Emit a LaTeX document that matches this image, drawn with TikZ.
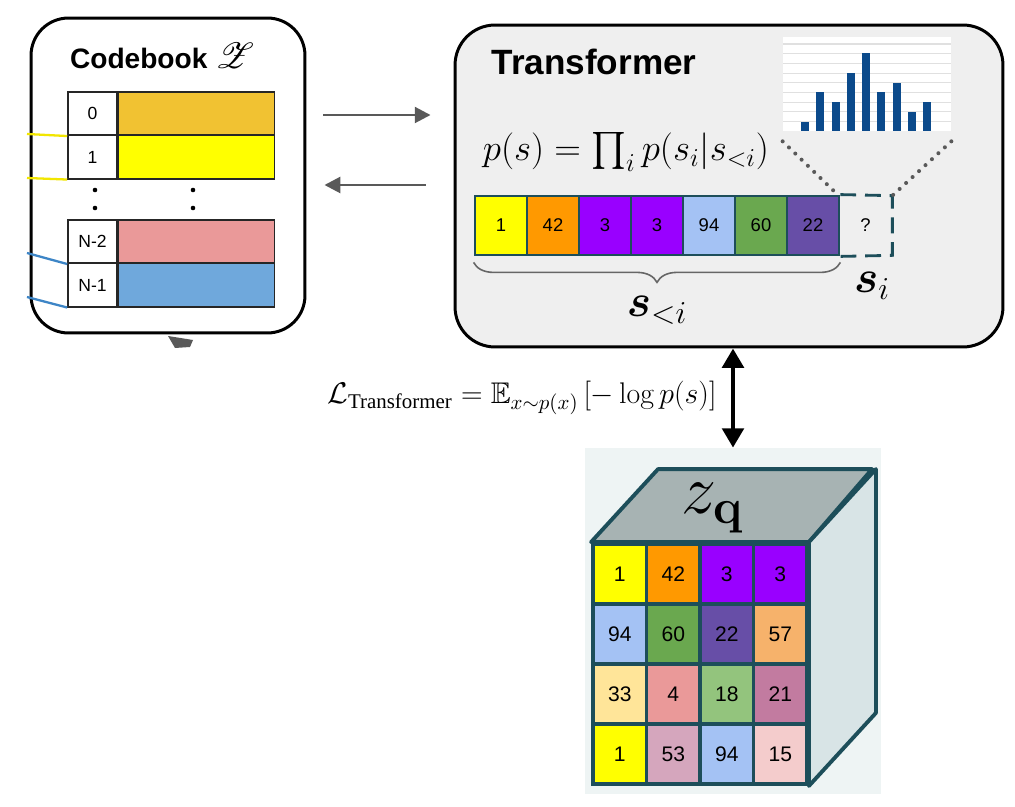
\RequirePackage{fix-cm}
\documentclass[tikz,border=0pt]{standalone}
\usepackage{amsmath,amssymb}
\usepackage{mathrsfs}
\usepackage[no-math]{fontspec}
\setmainfont{Liberation Sans}
\newfontfamily\timesrm{Liberation Serif}
\usetikzlibrary{arrows.meta,decorations.pathreplacing,calc,positioning}

\definecolor{cbgold}{HTML}{F1C232}
\definecolor{cyellow}{HTML}{FFFF00}
\definecolor{corange}{HTML}{FF9900}
\definecolor{cpurple}{HTML}{9900FF}
\definecolor{clblue}{HTML}{A4C2F4}
\definecolor{cgreen}{HTML}{6AA84F}
\definecolor{cdpurple}{HTML}{674EA7}
\definecolor{clorange}{HTML}{F6B26B}
\definecolor{clyellow}{HTML}{FFE599}
\definecolor{cpink}{HTML}{EA9999}
\definecolor{clgreen}{HTML}{93C47D}
\definecolor{cmauve}{HTML}{C27BA0}
\definecolor{clmauve}{HTML}{D5A6BD}
\definecolor{clpink}{HTML}{F4CCCC}
\definecolor{cbblue}{HTML}{6FA8DC}
\definecolor{linkblue}{HTML}{3D85C6}
\definecolor{linkyellow}{HTML}{F2E600}
\definecolor{gridteal}{HTML}{1D4E5A}
\definecolor{boxgray}{HTML}{EFEFEF}
\definecolor{histblue}{HTML}{0B4A8B}
\definecolor{cubetop}{HTML}{A7B3B3}
\definecolor{cubeside}{HTML}{D8E4E6}
\definecolor{cubebg}{HTML}{EEF4F4}
\definecolor{arrowgray}{HTML}{595959}

\begin{document}
\begin{tikzpicture}[x=0.02cm, y=-0.02cm,
    roundbox/.style={draw, line width=1.7pt, rounded corners=0.75cm, inner sep=0pt},
    idxcell/.style={draw=black!85, line width=0.9pt, fill=white, minimum width=0.98cm, minimum height=0.87cm, inner sep=0pt, font=\fontsize{10}{12}\selectfont},
    vcell/.style={draw=black!85, line width=0.9pt, minimum width=3.12cm, minimum height=0.87cm, inner sep=0pt},
    seqcell/.style={draw=gridteal, line width=1.6pt, minimum width=1.04cm, minimum height=1.18cm, inner sep=0pt, font=\fontsize{10.5}{12}\selectfont},
    zcell/.style={draw=gridteal, line width=2.2pt, minimum width=1.07cm, minimum height=1.2cm, inner sep=0pt, font=\fontsize{12}{14}\selectfont},
    cbarrow/.style={arrowgray, line width=1.6pt, -{Triangle[length=9pt,width=9pt]}},
    dblarrow/.style={black, line width=2.8pt, {Triangle[length=11pt,width=12pt]}-{Triangle[length=11pt,width=12pt]}},
    dotline/.style={black!65, line width=2.3pt, line cap=round, dash pattern=on 0pt off 5pt},
  ]
  \useasboundingbox (0,0) rectangle (1015,807);

  % codebook
  \node[roundbox, fill=white, minimum width=5.48cm, minimum height=6.3cm] (cbbox) at (168,175.5) {};
  \node[font=\bfseries\fontsize{16}{19}\selectfont] (cbtitle) at (162,56) {Codebook \fontsize{21}{24}\selectfont$\mathscr{Z}$};
  \foreach \lab/\c/\y [count=\k] in {0/cbgold/113.5, 1/cyellow/157, N-2/cpink/241.5, N-1/cbblue/285} {
    \node[idxcell] (i\k) at (92.5,\y) {\lab};
    \node[vcell, fill=\c, right=0pt of i\k] (v\k) {};
  }
  \foreach \x in {95,193}
    \foreach \y in {190,208}
      \fill (\x,\y) circle (1.3pt);
  \coordinate (cy1) at (27,134);
  \coordinate (cy2) at (27,178);
  \coordinate (cb1) at (27,253);
  \coordinate (cb2) at (27,297);
  \draw[linkyellow, line width=1.3pt] (cy1) -- (i1.south west);
  \draw[linkyellow, line width=1.3pt] (cy2) -- (i2.south west);
  \draw[linkblue, line width=1.3pt] (cb1) -- (i3.south west);
  \draw[linkblue, line width=1.3pt] (cb2) -- (i4.south west);
  \fill[arrowgray] (168,336) -- (193,340) -- (190,347) -- (175,348) -- cycle;

  % transformer
  \node[roundbox, fill=boxgray, rounded corners=0.8cm, minimum width=10.96cm, minimum height=6.44cm] (tfbox) at (729,186) {};
  \node[font=\bfseries\fontsize{20}{24}\selectfont] (tftitle) at (594,62) {Transformer};
  \coordinate (arrowtop) at (0,115);
  \coordinate (arrowbot) at (0,185);
  \draw[cbarrow, shorten <=0.34cm, shorten >=0.46cm] (cbbox.east |- arrowtop) -- (tfbox.west |- arrowtop);
  \draw[cbarrow, shorten <=0.56cm, shorten >=0.36cm] (tfbox.west |- arrowbot) -- (cbbox.east |- arrowbot);

  % histogram
  \node[fill=white, minimum width=3.36cm, minimum height=1.88cm, inner sep=0pt] (hist) at (867,84) {};
  \foreach \g in {44,53.7,63.4,73.1,82.8,92.5,102.2,111.9,121.6}
    \draw[black!12, line width=0.6pt] (783,\g) -- (951,\g);
  \foreach \x/\h in {805/122,820.3/92,835.5/102,850.8/73,866/53,881.3/92,896.5/83,911.8/112,927/102}
    \fill[histblue] (\x-4,131) rectangle (\x+4,\h);

  \node[font=\fontsize{21}{25}\selectfont] (pform) at (626,152) {$p(s) = \prod_i p(s_i|s_{<i})$};

  % token sequence
  \foreach \v/\c [count=\k] in {1/cyellow,42/corange,3/cpurple,3/cpurple,94/clblue,60/cgreen,22/cdpurple}
    \node[seqcell, fill=\c] (t\k) at ({501+(\k-1)*52},225.5) {\v};
  \node[minimum width=1.06cm, minimum height=1.18cm, inner sep=0pt, font=\fontsize{10.5}{12}\selectfont] (qcell) at (865.5,225.5) {?};
  \draw[gridteal, line width=1.6pt, dash pattern=on 9pt off 5pt] (t7.north east) -- (qcell.north east) -- (qcell.south east) -- (t7.south east);
  \draw[dotline] ([yshift=-0.2cm]hist.south west) -- (qcell.north west);
  \draw[dotline] ([yshift=-0.2cm]hist.south east) -- (qcell.north east);
  \draw[decorate, decoration={brace, mirror, amplitude=0.4cm}, black!60, line width=0.9pt] ([yshift=-0.12cm]t1.south west) -- ([yshift=-0.12cm]t7.south east);
  \node[font=\fontsize{26}{30}\selectfont] (sless) at (657,310) {$\boldsymbol{s}_{<i}$};
  \node[font=\fontsize{26}{30}\selectfont] (si) at (872,286) {$\boldsymbol{s}_i$};

  % loss
  \node[font=\fontsize{17}{20}\selectfont] (loss) at (522,398) {$\mathcal{L}_{\text{\timesrm Transformer}} = \mathbb{E}_{x\sim p(x)}\left[-\log p(s)\right]$};

  % z_q cube
  \node[fill=cubebg, minimum width=5.92cm, minimum height=6.92cm, inner sep=0pt] (zqpanel) at (733,621) {};
  \foreach \v/\c [count=\k from 0] in {1/cyellow,42/corange,3/cpurple,3/cpurple,94/clblue,60/cgreen,22/cdpurple,57/clorange,33/clyellow,4/cpink,18/clgreen,21/cmauve,1/cyellow,53/clmauve,94/clblue,15/clpink} {
    \pgfmathtruncatemacro\zr{int(\k/4)}
    \pgfmathtruncatemacro\zc{mod(\k,4)}
    \node[zcell, fill=\c] (z\k) at ({593+26.75+\zc*53.5},{544+30+\zr*60}) {\v};
  }
  \filldraw[fill=cubetop, draw=gridteal, line width=2.2pt, line join=round] (z0.north west) -- ++(67,-73) -- ++(214,0) -- (z3.north east) -- cycle;
  \filldraw[fill=cubeside, draw=gridteal, line width=2.2pt, line join=round] (z3.north east) -- ++(67,-73) -- ($(z15.south east)+(67,-73)$) -- (z15.south east) -- cycle;
  \node[font=\fontsize{40}{44}\selectfont] (zq) at (713,508) {$z_{\mathbf{q}}$};

  \draw[dblarrow] (tfbox.south -| zqpanel.north) -- (zqpanel.north);
\end{tikzpicture}
\end{document}
